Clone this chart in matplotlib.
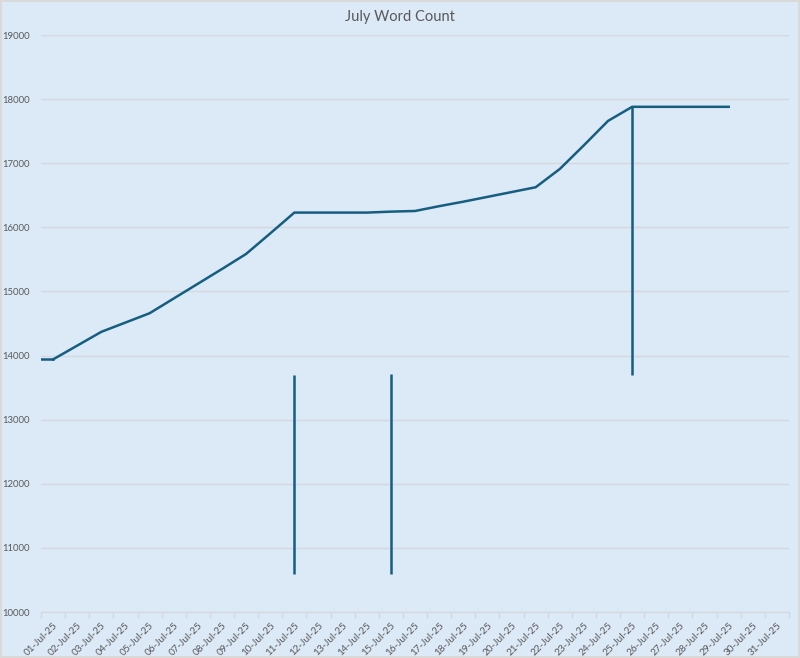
import numpy as np
import matplotlib
matplotlib.use("Agg")
import matplotlib.pyplot as plt

days = [f"{d:02d}-Jul-25" for d in range(1, 32)]
word_count = [13940, 14155, 14370, 14515, 14660, 14890, 15120, 15350, 15585, 15905,
              16230, 16230, 16230, 16230, 16245, 16255, 16330, 16400, 16475, 16550,
              16625, 16910, 17280, 17660, 17880, 17880, 17880, 17880, 17880,
              np.nan, np.nan]

# vertical marker segments
spike_days = ["11-Jul-25", "15-Jul-25", "25-Jul-25"]
spike_low = [10600, 10600, 13700]
spike_high = [13700, 13720, 17880]

yticks = [10000, 11000, 12000, 13000, 14000, 15000, 16000, 17000, 18000, 19000]

bg = "#dce9f6"
line_col = "#165e80"
text_col = "#595959"
grid_col = "#d3d9df"

plt.rcParams["font.family"] = ["Lato", "DejaVu Sans"]

fig = plt.figure(figsize=(8, 6.58), dpi=100, facecolor=bg,
                 edgecolor="#d9d9d9", linewidth=1.5)
ax = fig.add_axes([0.05125, 0.0699, 0.935, 0.8769])
ax.set_facecolor(bg)

x = np.arange(len(days))
ax.set_xlim(-0.5, len(days) - 0.5)
ax.set_ylim(yticks[0], yticks[-1])

ax.plot(x, word_count, color=line_col, lw=1.8, solid_joinstyle="miter")
# flat stub from the axis edge to the first point
ax.plot([ax.get_xlim()[0], x[0]], [word_count[0], word_count[0]], color=line_col, lw=1.8)

spike_x = [days.index(d) for d in spike_days]
ax.vlines(spike_x, spike_low, spike_high, color=line_col, lw=1.8)

ax.set_yticks(yticks)
ax.set_yticklabels([str(v) for v in yticks])
ax.yaxis.grid(True, color=grid_col, lw=1)
ax.set_axisbelow(True)

ax.set_xticks(x)
ax.set_xticklabels(days, rotation=45, ha="right", rotation_mode="anchor")
ax.set_xticks(np.arange(-0.5, len(days)), minor=True)
ax.tick_params(axis="x", which="major", length=0, pad=6, labelsize=7.2, labelcolor=text_col)
ax.tick_params(axis="x", which="minor", length=4, color=grid_col, width=1)
ax.tick_params(axis="y", length=0, pad=8, labelsize=6.8, labelcolor=text_col)

for s in ["top", "right", "left"]:
    ax.spines[s].set_visible(False)
ax.spines["bottom"].set_color(grid_col)

fig.text(0.5, 0.974, "July Word Count", ha="center", va="center", fontsize=10.5, color=text_col)

fig.savefig("out.png", dpi=100, facecolor=bg, edgecolor="#d9d9d9")
